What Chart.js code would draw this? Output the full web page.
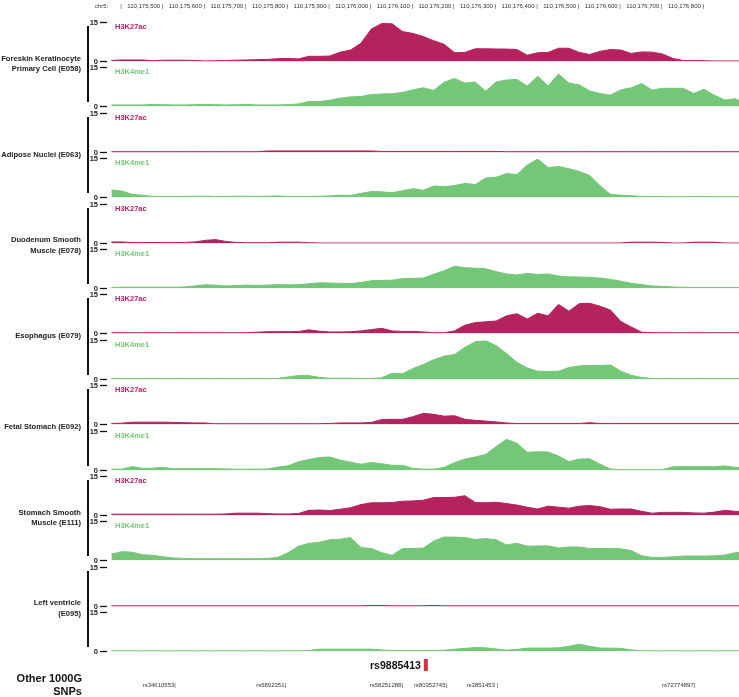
<!DOCTYPE html>
<html><head><meta charset="utf-8">
<script src="https://cdn.jsdelivr.net/npm/chart.js@4.4.1/dist/chart.umd.min.js"></script>
<style>
html,body{margin:0;padding:0;background:#fff;}
#fig{position:relative;width:739px;height:697px;overflow:hidden;font-family:"Liberation Sans",Arial,sans-serif;}
#fig canvas{position:absolute;}
.cell{position:absolute;right:658px;text-align:right;font-weight:bold;font-size:7.6px;line-height:10.5px;color:#222;white-space:pre;}
.bar{position:absolute;left:87px;width:2px;background:#111;}
.snps{position:absolute;right:657px;top:672px;text-align:right;font-weight:bold;font-size:11px;line-height:12.5px;color:#111;white-space:pre;}
</style></head><body><div id="fig"></div>
<script>
// Roadmap histone tracks around rs9885413 (chr5)
const REGION=[110175374,110176884];
const BIN_START=110175375, BIN_SIZE=25;
const RULER_TICKS=[110175400,110175500,110175600,110175700,110175800,110175900,110176000,110176100,110176200,110176300,110176400,110176500,110176600,110176700,110176800];
const Y_TICKS=[0,15];
const CELLS=['Foreskin Keratinocyte\nPrimary Cell (E058)','Adipose Nuclei (E063)','Duodenum Smooth\nMuscle (E078)','Esophagus (E079)','Fetal Stomach (E092)','Stomach Smooth\nMuscle (E111)','Left ventricle\n(E095)'];
const MARKS=['H3K27ac','H3K4me1'];

const E058_H3K27ac=[0.4,0.6,0.6,0.6,0.3,0.5,0.5,0.5,0.4,0.2, 0.3,0.4,0.5,0.6,0.7,0.8,1.1,1.2,1.0,2.0, 2.0,2.1,3.6,4.4,7.0,12.5,14.6,14.5,11.5,10.8, 9.6,8.0,6.6,3.4,3.5,4.9,4.9,4.8,4.8,4.6, 2.4,3.4,3.5,5.1,5.1,3.5,2.7,3.9,4.6,4.4, 3.1,3.7,3.6,2.9,1.2,0.4,0.4,0.3,0.2,0.2, 0.2,0.2];
const E058_H3K4me1=[0.6,0.6,0.6,0.6,0.8,0.7,0.6,0.6,0.7,0.8, 0.7,0.6,0.7,0.8,0.6,0.6,0.6,0.7,1.0,1.9, 1.9,2.4,3.2,3.7,3.8,4.6,4.8,4.9,5.4,6.4, 7.2,6.2,9.3,10.8,9.0,9.4,5.9,9.4,10.2,10.4, 7.9,11.6,7.9,12.5,9.0,8.3,6.0,5.0,4.4,6.4, 7.2,8.8,6.3,7.0,7.0,7.0,5.0,6.6,4.3,2.5, 3.0,1.2];
const E063_H3K27ac=[0.3,0.3,0.3,0.3,0.3,0.3,0.3,0.3,0.3,0.3, 0.3,0.3,0.3,0.3,0.3,0.6,0.6,0.6,0.6,0.6, 0.6,0.6,0.6,0.6,0.6,0.6,0.4,0.4,0.4,0.4, 0.4,0.4,0.4,0.4,0.4,0.4,0.4,0.4,0.3,0.3, 0.3,0.3,0.3,0.3,0.3,0.3,0.3,0.3,0.3,0.3, 0.3,0.3,0.3,0.3,0.3,0.3,0.3,0.3,0.3,0.3, 0.3,0.3];
const E063_H3K4me1=[2.9,2.5,1.2,0.9,0.4,0.4,0.4,0.4,0.5,0.5, 0.4,0.4,0.5,0.5,0.4,0.5,0.6,0.4,0.4,0.4, 0.5,0.6,0.9,0.8,1.6,2.3,2.2,1.8,2.6,3.4, 2.8,4.4,4.2,4.6,5.4,5.0,7.5,7.8,9.2,8.8, 12.5,14.8,11.5,11.9,11.1,10.0,8.5,4.5,1.2,0.9, 0.7,0.4,0.4,0.4,0.3,0.3,0.4,0.4,0.3,0.3, 0.3,0.3];
const E078_H3K27ac=[0.6,0.6,0.4,0.4,0.4,0.4,0.4,0.4,0.6,1.2, 1.5,0.8,0.4,0.3,0.3,0.3,0.5,0.5,0.5,0.3, 0.2,0.2,0.2,0.2,0.2,0.2,0.2,0.2,0.2,0.2, 0.2,0.2,0.2,0.2,0.2,0.2,0.2,0.2,0.2,0.2, 0.2,0.2,0.2,0.2,0.2,0.2,0.2,0.2,0.2,0.2, 0.5,0.5,0.5,0.4,0.2,0.2,0.5,0.5,0.5,0.2, 0.2,0.2];
const E078_H3K4me1=[0.4,0.5,0.5,0.5,0.5,0.5,0.5,0.6,1.0,1.4, 1.3,1.0,1.1,1.3,1.2,1.3,1.5,1.4,1.5,1.8, 2.2,2.1,2.0,1.9,2.3,3.0,3.1,3.2,3.8,3.9, 4.0,5.5,6.8,8.6,8.0,7.8,7.6,6.5,5.6,5.2, 5.8,5.4,5.6,4.8,4.5,4.4,4.3,4.0,3.5,2.8, 2.0,1.5,1.0,0.8,0.6,0.5,0.4,0.4,0.4,0.4, 0.4,0.4];
const E079_H3K27ac=[0.3,0.3,0.3,0.3,0.3,0.3,0.3,0.3,0.3,0.3, 0.3,0.3,0.3,0.3,0.5,0.7,0.7,0.7,0.8,1.4, 0.9,0.6,0.6,0.7,1.0,1.5,2.0,1.0,0.8,0.8, 0.6,0.3,0.3,1.0,3.2,4.2,4.5,4.8,6.8,7.6, 5.6,7.8,6.8,11.2,8.6,11.5,11.6,10.5,9.0,4.6, 2.5,0.5,0.3,0.3,0.3,0.3,0.3,0.3,0.3,0.3, 0.3,0.3];
const E079_H3K4me1=[0.4,0.4,0.4,0.4,0.4,0.4,0.4,0.4,0.4,0.4, 0.4,0.4,0.4,0.4,0.4,0.4,0.4,1.0,1.5,1.5, 0.8,0.5,0.5,0.5,0.4,0.4,0.7,2.4,2.2,4.2, 5.8,7.6,9.0,9.6,12.4,14.5,15.0,13.0,10.0,6.6, 4.4,3.2,3.1,3.2,4.6,5.2,5.4,5.4,5.6,3.2, 1.6,0.8,0.4,0.4,0.4,0.4,0.4,0.4,0.4,0.4, 0.4,0.4];
const E092_H3K27ac=[0.4,0.5,0.9,0.9,0.9,0.9,0.8,0.7,0.6,0.6, 0.3,0.3,0.3,0.3,0.3,0.3,0.3,0.3,0.3,0.3, 0.3,0.4,0.6,0.6,0.6,0.8,1.9,2.0,2.0,3.0, 4.3,3.9,3.2,3.4,2.0,1.6,1.3,1.0,0.6,0.4, 0.4,0.4,0.4,0.4,0.4,0.4,0.7,0.4,0.4,0.4, 0.4,0.4,0.4,0.4,0.4,0.4,0.4,0.4,0.4,0.4, 0.4,0.4];
const E092_H3K4me1=[0.5,0.5,1.5,0.8,0.9,1.2,0.7,0.7,0.7,0.7, 0.7,0.6,0.5,0.5,0.5,0.6,1.3,1.8,3.4,4.2, 5.0,5.2,4.0,3.2,2.4,3.1,2.6,2.0,2.0,0.8, 0.5,0.5,1.2,3.0,4.4,5.2,6.2,9.2,12.0,10.5, 7.0,7.2,7.1,5.6,3.4,4.4,4.5,2.4,0.6,0.3, 0.3,0.3,0.3,0.3,1.4,1.5,1.5,1.5,1.4,1.8, 1.2,1.2];
const E111_H3K27ac=[0.5,0.5,0.5,0.5,0.5,0.5,0.5,0.5,0.5,0.5, 0.5,0.6,0.9,0.9,0.9,0.7,0.6,0.6,0.8,2.0, 2.1,1.9,2.4,3.0,4.2,4.9,4.9,5.0,5.5,5.6, 5.9,6.9,6.9,7.0,7.6,5.0,4.9,5.1,4.6,4.0, 3.2,2.5,3.6,3.2,2.8,3.6,3.8,3.4,2.4,2.5, 2.5,1.6,0.9,1.2,1.2,1.2,1.0,0.9,1.3,2.0, 1.6,1.5];
const E111_H3K4me1=[2.5,3.4,3.2,2.2,2.0,1.4,1.0,0.8,0.7,0.7, 0.7,0.7,0.7,0.7,0.7,0.8,1.2,3.0,5.5,6.6, 7.0,8.0,8.2,8.8,5.0,4.6,3.0,2.0,4.6,4.6, 4.8,7.5,9.0,9.0,8.8,8.1,8.4,8.0,6.0,6.6, 5.5,5.6,5.6,4.8,5.2,5.2,4.6,4.6,4.6,4.5, 3.8,1.8,1.2,1.2,1.4,1.7,1.7,1.7,1.8,2.1, 3.0,3.4];
const E095_H3K27ac=[0.25,0.25,0.25,0.25,0.25,0.25,0.25,0.25,0.25,0.25, 0.25,0.25,0.25,0.25,0.25,0.25,0.25,0.25,0.25,0.25, 0.25,0.25,0.25,0.25,0.25,0.4,0.4,0.25,0.25,0.25, 0.25,0.4,0.25,0.25,0.25,0.25,0.25,0.25,0.25,0.25, 0.25,0.25,0.25,0.25,0.25,0.25,0.25,0.25,0.25,0.25, 0.25,0.25,0.25,0.25,0.25,0.25,0.25,0.25,0.25,0.25, 0.25,0.25];
const E095_H3K4me1=[0.25,0.25,0.25,0.25,0.25,0.25,0.25,0.25,0.25,0.25, 0.25,0.25,0.25,0.25,0.25,0.25,0.25,0.25,0.25,0.4, 0.9,0.9,0.9,0.9,0.9,0.9,0.6,0.4,0.4,0.4, 0.4,0.4,0.5,0.9,1.2,1.5,1.4,1.0,0.5,0.8, 1.3,1.3,1.3,1.4,2.0,2.8,2.0,1.3,1.3,1.2, 0.6,0.3,0.25,0.25,0.25,0.25,0.25,0.25,0.25,0.25, 0.25,0.25];

const SNP_IDS=['rs34610553','rs6892351','rs58251288','rs80352745','rs3851453 ','rs72774897'];
const SNP_POS=[110175530,110175795,110176076,110176182,110176305,110176779];
const LEAD_SNP='rs9885413', LEAD_POS=110176131;

(function(){
  const FONT='"Liberation Sans", Arial, sans-serif';
  const COLORS={H3K27ac:'#b5235e',H3K4me1:'#74c777'};
  const TOP0=22, STEP=45.4, TRACK_H=40, PLOT_LEFT=111, AXIS_W=51, W=739;
  const fig=document.getElementById('fig');
  const tracks=[
    [E058_H3K27ac,E058_H3K4me1],[E063_H3K27ac,E063_H3K4me1],[E078_H3K27ac,E078_H3K4me1],
    [E079_H3K27ac,E079_H3K4me1],[E092_H3K27ac,E092_H3K4me1],[E111_H3K27ac,E111_H3K4me1],
    [E095_H3K27ac,E095_H3K4me1]
  ].flatMap((pair,g)=>pair.map((vals,m)=>({mark:MARKS[m],values:vals,showMark:g<6})));
  const base=i=>TOP0+STEP*i+TRACK_H;
  const el=(cls,css,txt)=>{const d=document.createElement('div');d.className=cls;Object.assign(d.style,css);if(txt)d.textContent=txt;fig.appendChild(d);return d;};
  const canvas=(l,t,w,h)=>{const c=document.createElement('canvas');c.width=w;c.height=h;c.style.left=l+'px';c.style.top=t+'px';fig.appendChild(c);return c;};
  const quiet={legend:{display:false},tooltip:{enabled:false}};

  const markLabel={id:'markLabel',afterDraw(chart,args,o){
    if(!o.text) return; const {ctx,chartArea:a}=chart;
    ctx.save(); ctx.font='bold 7.5px '+FONT; ctx.fillStyle=o.color; ctx.textBaseline='top';
    ctx.fillText(o.text,a.left+4,a.top+1); ctx.restore();
  }};

  // tracks
  tracks.forEach((t,i)=>{
    const top=Math.round(TOP0+STEP*i), col=COLORS[t.mark];
    const cv=canvas(PLOT_LEFT-AXIS_W,top-6,W-PLOT_LEFT+AXIS_W,TRACK_H+12);
    new Chart(cv,{type:'line',
      data:{datasets:[{data:t.values.map((v,k)=>({x:BIN_START+k*BIN_SIZE,y:v})),fill:'origin',borderColor:col,backgroundColor:col,borderWidth:1,pointRadius:0,tension:0}]},
      options:{responsive:false,animation:false,events:[],layout:{padding:{top:6,bottom:6,left:0,right:0}},
        plugins:Object.assign({markLabel:{text:t.showMark?t.mark:'',color:col}},quiet),
        scales:{
          x:{type:'linear',min:REGION[0],max:REGION[1],display:false},
          y:{min:0,max:15,afterBuildTicks:s=>{s.ticks=Y_TICKS.map(v=>({value:v}));},afterFit:s=>{s.width=AXIS_W;},
            border:{display:false},
            grid:{drawOnChartArea:false,tickLength:11,tickBorderDash:[7,20],tickColor:'#111',tickWidth:1.3},
            ticks:{padding:2,font:{size:7.5,weight:'bold',family:FONT},color:'#222'}}
        }},
      plugins:[markLabel]});
  });

  // ruler
  new Chart(canvas(0,0,W,16),{type:'line',data:{datasets:[]},
    options:{responsive:false,animation:false,events:[],layout:{padding:{left:PLOT_LEFT,top:3,right:0,bottom:0}},plugins:quiet,
      scales:{
        x:{type:'linear',position:'top',min:REGION[0],max:REGION[1],
          afterBuildTicks:s=>{s.ticks=RULER_TICKS.map(v=>({value:v}));},
          afterFit:s=>{s.paddingLeft=0;s.paddingRight=0;},
          grid:{display:false,drawTicks:false},border:{display:false},
          ticks:{autoSkip:false,maxRotation:0,align:'end',padding:0,font:{size:6,family:FONT},color:'#333',
            callback:v=>v===RULER_TICKS[0]?'chr5:\u2003\u2003|':Number(v).toLocaleString('en-US')+' |'}},
        y:{display:false}
      }}});

  // SNP row
  const snpMarks={id:'snpMarks',afterDraw(chart){
    const {ctx}=chart, x=chart.scales.x;
    ctx.save();
    const lp=x.getPixelForValue(LEAD_POS);
    ctx.fillStyle='#d7303c'; ctx.fillRect(lp-2,4,4,12);
    ctx.fillStyle='#111'; ctx.font='bold 10.5px '+FONT; ctx.textAlign='right'; ctx.textBaseline='middle';
    ctx.fillText(LEAD_SNP,lp-5,11);
    ctx.fillStyle='#333'; ctx.font='6px '+FONT;
    SNP_IDS.forEach((id,k)=>ctx.fillText(id+'|',x.getPixelForValue(SNP_POS[k]),30));
    ctx.restore();
  }};
  new Chart(canvas(0,655,W,42),{type:'line',data:{datasets:[]},
    options:{responsive:false,animation:false,events:[],layout:{padding:{left:PLOT_LEFT,right:0,top:0,bottom:0}},plugins:quiet,
      scales:{x:{type:'linear',min:REGION[0],max:REGION[1],display:false},y:{display:false,min:0,max:1}}},
    plugins:[snpMarks]});

  // cell labels + group bars
  CELLS.forEach((name,g)=>{
    const lines=name.split('\n').length, c=base(2*g)+2;
    el('cell',{top:(c-lines*10.5/2)+'px'},name);
    const t0=Math.round(TOP0+STEP*2*g+4), t1=Math.round(base(2*g+1)-5);
    el('bar',{top:t0+'px',height:(t1-t0)+'px'});
  });
  el('snps',{},'Other 1000G\nSNPs');
})();
</script></body></html>
